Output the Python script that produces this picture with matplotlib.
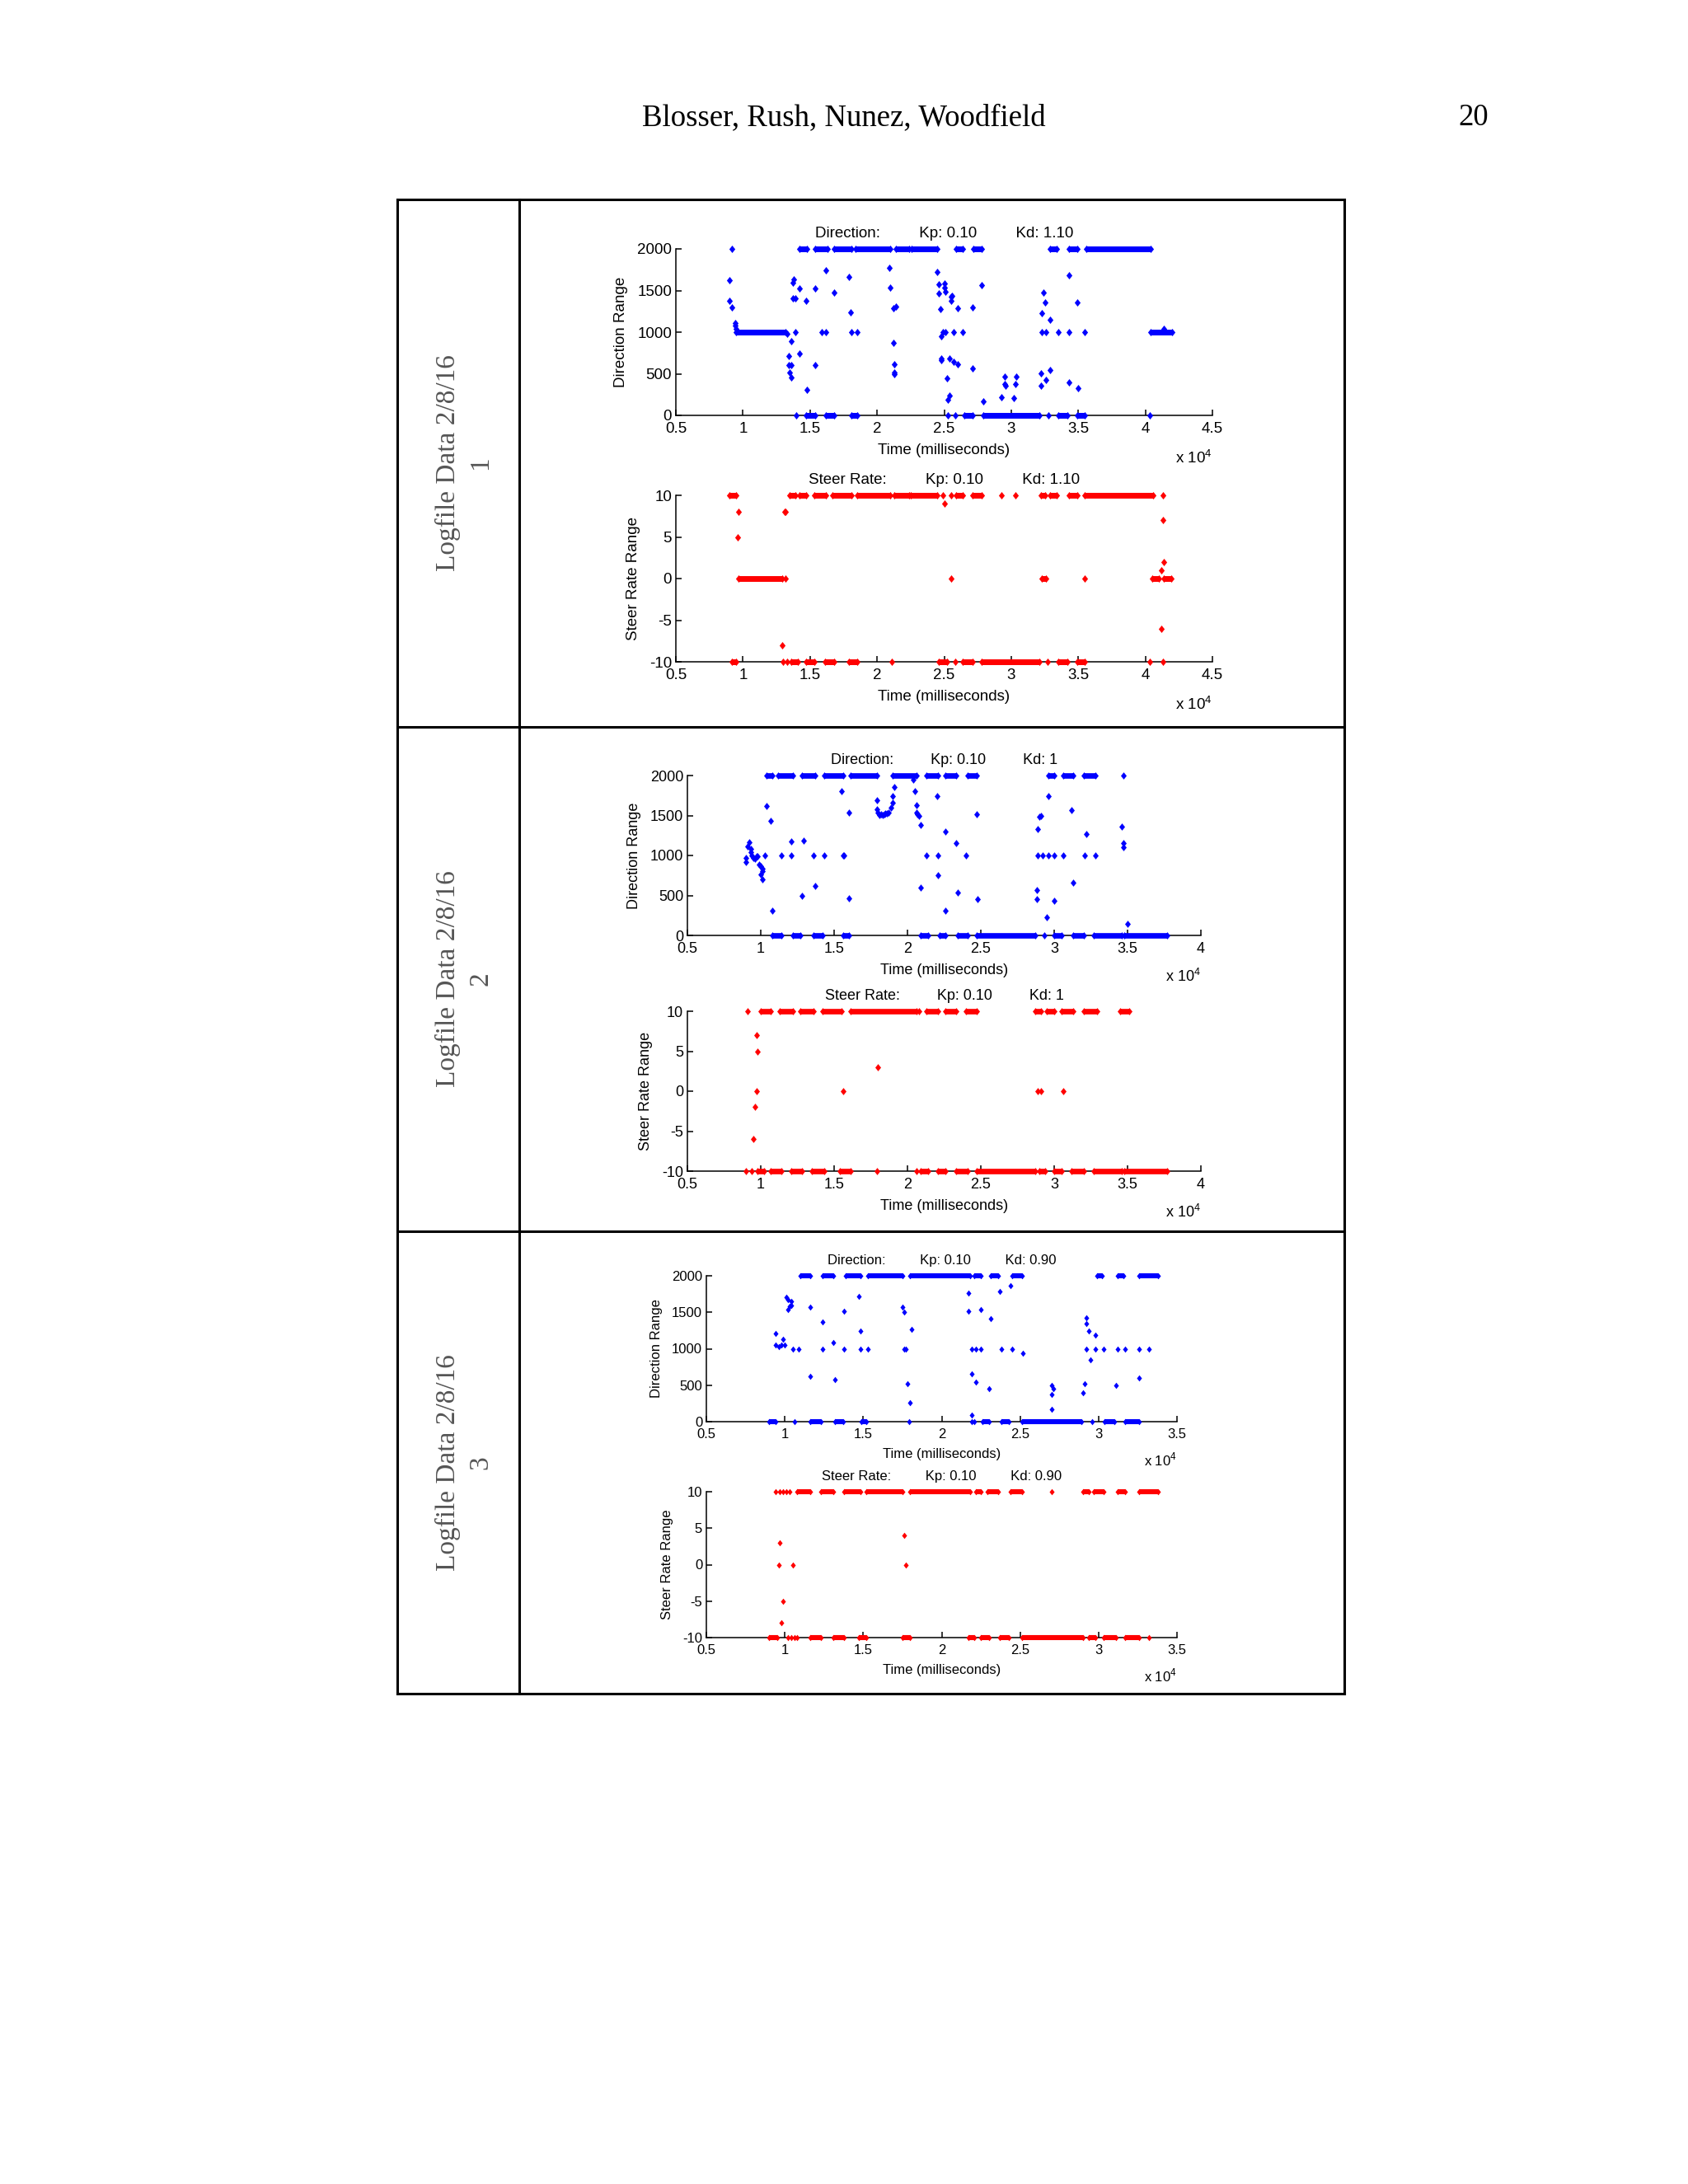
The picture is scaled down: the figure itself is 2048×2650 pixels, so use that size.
import numpy as np
import matplotlib
matplotlib.use("Agg")
import matplotlib.pyplot as plt

plt.rcParams['font.family'] = ['Liberation Sans', 'DejaVu Sans']
plt.rcParams['axes.unicode_minus'] = False
plt.rcParams['mathtext.fontset'] = 'custom'
plt.rcParams['mathtext.rm'] = 'Liberation Sans'

# time axis values are in units of 10^4 ms, as printed on the axes
# ---- logfile 1 : Kp 0.10, Kd 1.10 ----
dir1_runs_2000 = [(1.42, 1.48), (1.54, 1.63), (1.68, 1.81), (1.84, 2.10), (2.14, 2.24), (2.26, 2.45),
                  (2.59, 2.64), (2.72, 2.78), (3.29, 3.34), (3.43, 3.49), (3.56, 4.04)]
dir1_runs_1000 = [(0.95, 1.32), (4.04, 4.20)]
dir1_runs_0 = [(1.47, 1.54), (1.62, 1.68), (1.81, 1.85), (2.65, 2.71), (2.79, 3.21), (3.35, 3.42), (3.49, 3.55)]
dir1_pts = [(0.92, 2000), (1.40, 0), (2.53, 0), (2.58, 0), (3.28, 0), (4.03, 0),
            (1.39, 1000), (1.59, 1000), (1.62, 1000), (1.81, 1000), (1.85, 1000), (2.49, 1000), (2.51, 1000),
            (2.57, 1000), (2.64, 1000), (3.23, 1000), (3.26, 1000), (3.35, 1000), (3.43, 1000), (3.55, 1000),
            (4.14, 1040),
            (0.90, 1628), (0.90, 1374), (0.92, 1298), (0.94, 1110), (0.94, 1077), (0.95, 1038),
            (1.33, 979), (1.36, 890), (1.34, 712), (1.34, 606), (1.36, 606), (1.35, 511), (1.36, 451),
            (1.38, 1638), (1.37, 1595), (1.37, 1407), (1.39, 1407), (1.42, 1526), (1.42, 738),
            (1.47, 1374), (1.48, 310), (1.54, 606), (1.54, 1522), (1.62, 1746), (1.68, 1479),
            (1.79, 1661), (1.80, 1242),
            (2.09, 1773), (2.10, 1539), (2.12, 870), (2.12, 1285), (2.14, 1311), (2.13, 616), (2.13, 517), (2.13, 494),
            (2.45, 1720), (2.46, 1572), (2.46, 1463), (2.47, 1275), (2.48, 946), (2.48, 679), (2.48, 666),
            (2.50, 1588), (2.50, 1539), (2.51, 1489), (2.52, 441), (2.54, 682), (2.54, 237), (2.53, 188),
            (2.55, 1374), (2.55, 1423), (2.56, 1440), (2.57, 639), (2.60, 1285), (2.60, 616),
            (2.71, 560), (2.71, 1298), (2.78, 1565), (2.79, 171),
            (2.93, 221), (2.95, 468), (2.95, 376), (2.96, 353), (3.02, 204), (3.03, 376), (3.04, 468),
            (3.22, 501), (3.22, 353), (3.23, 1226), (3.24, 1479), (3.25, 1357), (3.26, 425),
            (3.29, 1153), (3.29, 544), (3.43, 1687), (3.43, 395), (3.49, 1357), (3.50, 326)]

steer1_runs_10 = [(0.90, 0.95), (1.35, 1.39), (1.42, 1.47), (1.53, 1.62), (1.67, 1.81), (1.85, 2.10),
                  (2.13, 2.24), (2.25, 2.45), (2.59, 2.64), (2.71, 2.78), (3.22, 3.25), (3.29, 3.34),
                  (3.43, 3.49), (3.55, 4.06)]
steer1_runs_0 = [(0.97, 1.29), (3.23, 3.26), (4.05, 4.10), (4.14, 4.19)]
steer1_runs_m10 = [(0.92, 0.95), (1.36, 1.41), (1.47, 1.53), (1.61, 1.68), (1.79, 1.85), (2.46, 2.52),
                   (2.64, 2.71), (2.78, 3.21), (3.35, 3.42), (3.49, 3.55)]
steer1_pts = [(2.49, 10), (2.55, 10), (2.93, 10), (3.03, 10), (4.13, 10),
              (1.32, 0), (2.55, 0), (3.55, 0),
              (1.30, -10), (1.33, -10), (2.11, -10), (2.58, -10), (3.27, -10), (4.03, -10), (4.13, -10),
              (0.97, 8), (0.96, 5), (1.31, 8), (1.32, 8), (1.29, -8), (2.50, 9),
              (4.13, 7), (4.14, 2), (4.12, 1), (4.12, -6)]

# ---- logfile 2 : Kp 0.10, Kd 1 ----
dir2_runs_2000 = [(1.04, 1.08), (1.12, 1.22), (1.28, 1.37), (1.43, 1.56), (1.61, 1.79), (1.90, 2.06),
                  (2.13, 2.21), (2.26, 2.33), (2.41, 2.47), (2.96, 3.00), (3.06, 3.13), (3.20, 3.28)]
dir2_runs_0 = [(1.08, 1.14), (1.22, 1.27), (1.36, 1.42), (1.56, 1.60), (2.09, 2.14), (2.22, 2.26),
               (2.34, 2.41), (2.47, 2.87), (3.00, 3.05), (3.13, 3.20), (3.27, 3.46), (3.48, 3.77)]
dir2_pts = [(3.47, 2000), (2.93, 0),
            (0.90, 921), (0.90, 972), (0.91, 1110), (0.92, 1162), (0.93, 1083), (0.93, 1041), (0.94, 1000),
            (0.95, 972), (0.96, 955), (0.97, 990), (0.98, 990), (0.99, 886), (1.00, 869), (1.01, 834),
            (1.01, 807), (1.00, 765), (1.01, 703),
            (1.03, 1000), (1.04, 1617), (1.07, 1438), (1.08, 310), (1.14, 1000), (1.21, 1172), (1.21, 1000),
            (1.29, 1186), (1.28, 500), (1.36, 1000), (1.37, 621), (1.43, 1000), (1.55, 1807), (1.56, 1000),
            (1.57, 1000), (1.60, 1541), (1.60, 469),
            (1.79, 1690), (1.79, 1576), (1.80, 1541), (1.81, 1510), (1.82, 1517), (1.83, 1505), (1.84, 1517),
            (1.85, 1524), (1.86, 1530), (1.87, 1541), (1.89, 1593), (1.90, 1662), (1.90, 1738), (1.91, 1855),
            (2.04, 1945), (2.05, 1807), (2.06, 1627), (2.06, 1541), (2.07, 1517), (2.08, 1497), (2.09, 1379),
            (2.09, 603), (2.13, 1000), (2.20, 1738), (2.21, 1000), (2.21, 755), (2.26, 1300), (2.26, 310),
            (2.33, 1155), (2.34, 531), (2.40, 1000),
            (2.47, 1514), (2.48, 455), (2.96, 1738), (2.90, 1483), (2.91, 1500), (2.89, 1334), (3.12, 1569),
            (3.22, 1272), (3.46, 1365), (3.47, 1159), (3.47, 1103),
            (2.89, 1000), (2.92, 1000), (2.96, 1000), (3.00, 1000), (3.06, 1000), (3.21, 1000), (3.28, 1000),
            (3.13, 662), (2.88, 572), (2.88, 455), (3.00, 438), (2.95, 231), (3.50, 145)]

steer2_runs_10 = [(1.00, 1.07), (1.13, 1.22), (1.27, 1.36), (1.42, 1.55), (1.61, 2.06), (2.13, 2.21),
                  (2.26, 2.33), (2.40, 2.47), (2.87, 2.91), (2.95, 3.00), (3.05, 3.13), (3.20, 3.29),
                  (3.45, 3.51)]
steer2_runs_m10 = [(0.98, 1.02), (1.07, 1.14), (1.21, 1.28), (1.35, 1.43), (1.54, 1.61), (2.09, 2.14),
                   (2.21, 2.26), (2.33, 2.41), (2.47, 2.87), (2.90, 2.94), (3.00, 3.05), (3.12, 3.20),
                   (3.27, 3.46), (3.48, 3.77)]
steer2_pts = [(0.91, 10), (2.08, 10), (0.90, -10), (0.94, -10), (1.79, -10), (2.06, -10),
              (0.97, 7), (0.98, 5), (0.97, 0), (0.96, -2), (0.95, -6), (1.56, 0), (1.80, 3),
              (2.89, 0), (2.91, 0), (3.06, 0)]

# ---- logfile 3 : Kp 0.10, Kd 0.90 ----
dir3_runs_2000 = [(1.10, 1.16), (1.24, 1.31), (1.39, 1.48), (1.53, 1.75), (1.80, 2.18), (2.21, 2.25),
                  (2.31, 2.36), (2.45, 2.51), (2.99, 3.02), (3.12, 3.16), (3.26, 3.38)]
dir3_runs_0 = [(0.90, 0.94), (1.16, 1.23), (1.32, 1.37), (1.49, 1.52), (2.26, 2.30), (2.38, 2.43),
               (2.51, 2.89), (3.04, 3.10), (3.17, 3.26)]
dir3_pts = [(1.06, 0), (1.79, 0), (2.19, 0), (2.21, 0), (2.96, 0),
            (0.94, 1210), (0.94, 1053), (0.96, 1026), (0.98, 1053), (1.00, 1053), (0.99, 1128),
            (1.01, 1710), (1.02, 1673), (1.04, 1654), (1.03, 1579), (1.02, 1541), (1.04, 1598),
            (1.05, 1000), (1.09, 1000), (1.16, 1568), (1.16, 620), (1.24, 1372), (1.24, 1000), (1.31, 1090),
            (1.32, 575), (1.38, 1000), (1.38, 1511), (1.47, 1718), (1.48, 1240), (1.48, 1000), (1.53, 1000),
            (1.75, 1568), (1.76, 1504), (1.76, 1000), (1.77, 1000), (1.78, 515), (1.80, 263), (1.81, 1267),
            (2.17, 1759), (2.17, 1511), (2.19, 1000), (2.22, 1000), (2.25, 1000), (2.19, 658), (2.22, 545),
            (2.19, 94), (2.25, 1534), (2.31, 1417), (2.30, 451), (2.37, 1786), (2.38, 1000), (2.44, 1861),
            (2.45, 1000), (2.52, 940),
            (2.70, 496), (2.71, 451), (2.70, 376), (2.70, 169),
            (2.90, 395), (2.91, 515), (2.92, 1428), (2.92, 1342), (2.94, 1240), (2.92, 1000), (2.95, 853),
            (2.98, 1000), (2.98, 1192), (3.03, 1000), (3.12, 1000), (3.17, 1000), (3.11, 500), (3.26, 1000),
            (3.32, 1000), (3.26, 601)]

steer3_runs_10 = [(1.08, 1.16), (1.23, 1.31), (1.38, 1.48), (1.52, 1.75), (1.80, 2.18), (2.22, 2.25),
                  (2.29, 2.36), (2.44, 2.51), (2.90, 2.94), (2.97, 3.03), (3.12, 3.17), (3.26, 3.38)]
steer3_runs_m10 = [(0.90, 0.95), (1.16, 1.23), (1.31, 1.38), (1.47, 1.52), (1.75, 1.80), (2.17, 2.21),
                   (2.25, 2.30), (2.37, 2.43), (2.51, 2.90), (2.94, 2.98), (3.03, 3.11), (3.17, 3.26)]
steer3_pts = [(0.94, 10), (0.97, 10), (0.99, 10), (1.01, 10), (1.03, 10), (2.70, 10),
              (1.02, -10), (1.04, -10), (1.06, -10), (1.08, -10), (3.32, -10),
              (0.97, 3), (0.96, 0), (1.05, 0), (0.99, -5), (0.98, -8), (1.76, 4), (1.77, 0)]

W, H = 2048, 2650
fig = plt.figure(figsize=(W / 100, H / 100), dpi=100)
fig.patch.set_facecolor('white')

# page frame: header, table lines and left cell labels (pixel coords)
page = fig.add_axes([0, 0, 1, 1])
page.set_xlim(0, W)
page.set_ylim(H, 0)
page.axis('off')

page.text(1024, 143, 'Blosser, Rush, Nunez, Woodfield', family='Liberation Serif', fontsize=26.5,
          ha='center', va='center')
page.text(1806, 143, '20', family='Liberation Serif', fontsize=26.5, ha='right', va='center')

tl, tr, tc = 482, 1631, 630
rows = [242, 882, 1494, 2055]
for y in rows:
    page.plot([tl, tr], [y, y], color='black', lw=2.2, solid_capstyle='projecting')
for x in (tl, tc, tr):
    page.plot([x, x], [rows[0], rows[-1]], color='black', lw=2.2)
for i in range(3):
    page.text((tl + tc) / 2 + 7, (rows[i] + rows[i + 1]) / 2, 'Logfile Data 2/8/16\n%d' % (i + 1),
              family='Liberation Serif', fontsize=24, color='#555555', rotation=90,
              ha='center', va='center', multialignment='center', linespacing=1.4)

DIAMOND = [(0, 1), (0.8, 0), (0, -1), (-0.8, 0), (0, 1)]


def panel(rect, color, runs, pts, xmax, ylim, yticks, title, ylabel, fs, ms, lw):
    x0, y0, x1, y1 = rect
    ax = fig.add_axes([x0 / W, 1 - y1 / H, (x1 - x0) / W, (y1 - y0) / H])
    for level, spans in runs:
        for a, b in spans:
            ax.plot([a, b], [level, level], color=color, lw=lw, marker=DIAMOND, ms=ms, mew=0,
                    solid_capstyle='butt', clip_on=False, zorder=3)
    xs, ys = zip(*pts)
    ax.plot(xs, ys, ls='none', marker=DIAMOND, ms=ms, mew=0, color=color, clip_on=False, zorder=3)
    ax.set_xlim(0.5, xmax)
    ax.set_ylim(*ylim)
    xt = np.arange(0.5, xmax + 0.01, 0.5)
    ax.set_xticks(xt)
    ax.set_xticklabels(['%g' % v for v in xt])
    ax.set_yticks(yticks)
    ax.set_yticklabels(['%g' % v for v in yticks])
    for s in ('top', 'right'):
        ax.spines[s].set_visible(False)
    for s in ('left', 'bottom'):
        ax.spines[s].set_linewidth(1.1)
    ax.tick_params(direction='in', length=5, width=1.1, labelsize=fs)
    ax.tick_params(axis='x', pad=6)
    ax.tick_params(axis='y', pad=3.5)
    ax.set_title(title, fontsize=fs, pad=10)
    ax.set_xlabel('Time (milliseconds)', fontsize=fs, labelpad=6)
    ax.set_ylabel(ylabel, fontsize=fs, labelpad=8)
    ax.annotate('x 10$^{4}$', xy=(1, 0), xycoords='axes fraction', xytext=(0, -52 * fs / 13.5),
                textcoords='offset pixels', ha='right', va='center', fontsize=fs)
    ax.patch.set_alpha(0)
    return ax


sp = '         '
blue, red = (0, 0, 1), (1, 0, 0)

panel((820, 302, 1471, 504), blue,
      [(2000, dir1_runs_2000), (1000, dir1_runs_1000), (0, dir1_runs_0)], dir1_pts,
      4.5, (0, 2000), [0, 500, 1000, 1500, 2000],
      'Direction:' + sp + 'Kp: 0.10' + sp + 'Kd: 1.10', 'Direction Range', 13.5, 6.5, 5.0)
panel((820, 601, 1471, 803), red,
      [(10, steer1_runs_10), (0, steer1_runs_0), (-10, steer1_runs_m10)], steer1_pts,
      4.5, (-10, 10), [-10, -5, 0, 5, 10],
      'Steer Rate:' + sp + 'Kp: 0.10' + sp + 'Kd: 1.10', 'Steer Rate Range', 13.5, 6.5, 5.0)

panel((834, 941, 1457, 1135), blue,
      [(2000, dir2_runs_2000), (0, dir2_runs_0)], dir2_pts,
      4.0, (0, 2000), [0, 500, 1000, 1500, 2000],
      'Direction:' + sp + 'Kp: 0.10' + sp + 'Kd: 1', 'Direction Range', 13, 6.3, 4.8)
panel((834, 1227, 1457, 1421), red,
      [(10, steer2_runs_10), (-10, steer2_runs_m10)], steer2_pts,
      4.0, (-10, 10), [-10, -5, 0, 5, 10],
      'Steer Rate:' + sp + 'Kp: 0.10' + sp + 'Kd: 1', 'Steer Rate Range', 13, 6.3, 4.8)

panel((857, 1548, 1428, 1725), blue,
      [(2000, dir3_runs_2000), (0, dir3_runs_0)], dir3_pts,
      3.5, (0, 2000), [0, 500, 1000, 1500, 2000],
      'Direction:' + sp + 'Kp: 0.10' + sp + 'Kd: 0.90', 'Direction Range', 12, 5.5, 4.4)
panel((857, 1810, 1428, 1987), red,
      [(10, steer3_runs_10), (-10, steer3_runs_m10)], steer3_pts,
      3.5, (-10, 10), [-10, -5, 0, 5, 10],
      'Steer Rate:' + sp + 'Kp: 0.10' + sp + 'Kd: 0.90', 'Steer Rate Range', 12, 5.5, 4.4)

fig.savefig('out.png', dpi=100, facecolor='white')
